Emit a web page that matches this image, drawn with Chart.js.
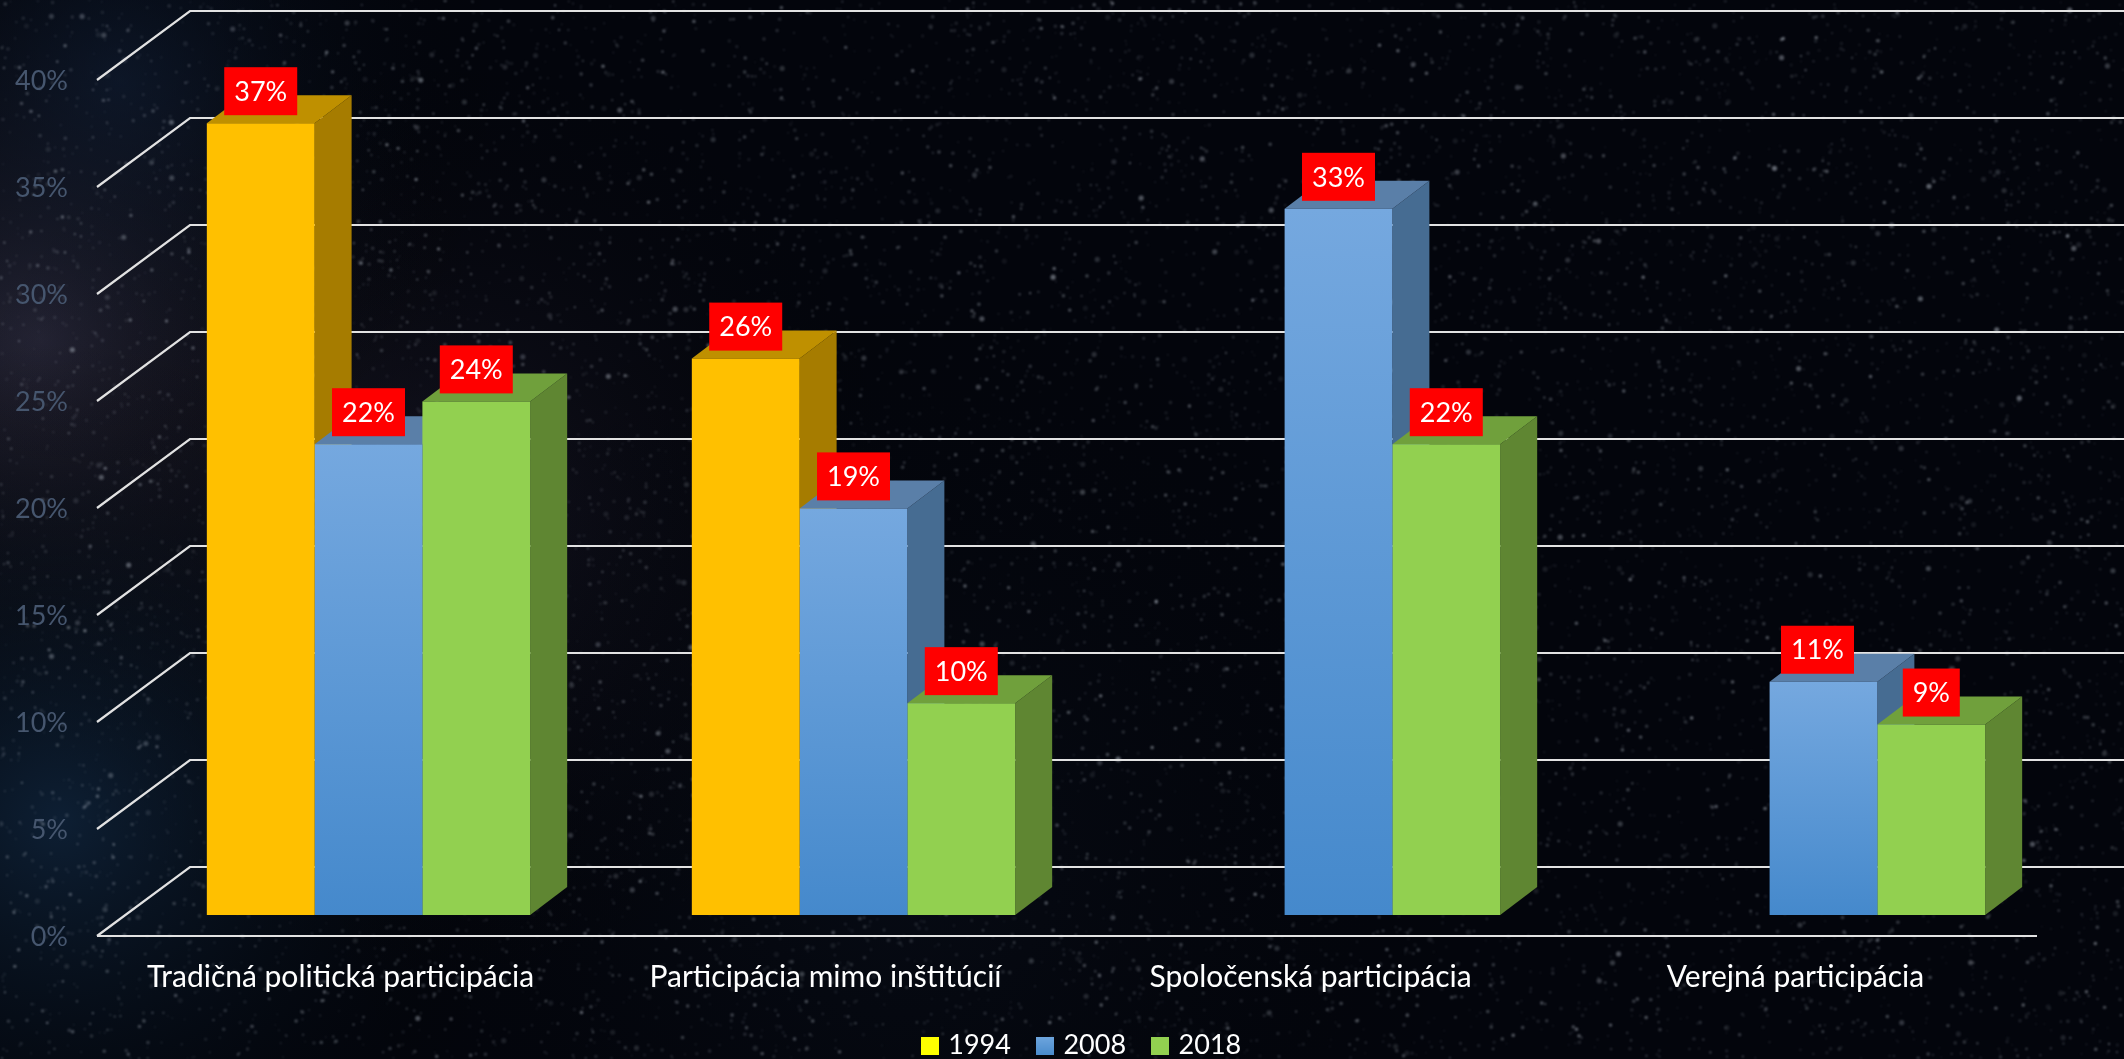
<!DOCTYPE html>
<html lang="sk">
<head>
<meta charset="utf-8">
<title>Participácia</title>
<script src="https://cdn.jsdelivr.net/npm/chart.js@4"></script>
<style>
  html, body { margin: 0; padding: 0; background: #03050c; overflow: hidden; }
  canvas { display: block; }
</style>
</head>
<body>
<canvas id="graf" width="2124" height="1059"></canvas>
<script>
const kategorie = ['Tradičná politická participácia', 'Participácia mimo inštitúcií', 'Spoločenská participácia', 'Verejná participácia'];
const roky = ['1994', '2008', '2018'];
const hodnoty1994 = [37, 26, null, null];
const hodnoty2008 = [22, 19, 33, 10.9];
const hodnoty2018 = [24, 9.9, 22, 8.9];
const znacky = [0, 5, 10, 15, 20, 25, 30, 35, 40];

const fontName = 'Lato, Carlito, "Open Sans", sans-serif';

// colours per series: front, top face, side face
const farby = [
  { front: '#FFC000', top: '#BF9000', side: '#A67C00', legend: '#FFFF00' },
  { front: ['#75A8DF', '#4589CC'], top: '#5A7FA8', side: '#466C92', legend: '#5F9BD8' },
  { front: '#92D050', top: '#70A03C', side: '#5F8632', legend: '#92D050' }
];

// 3D box geometry
const wallDx = 93, wallDy = 69;       // from the front of the floor to the back wall
const frontDrop = 21;                 // front floor edge sits this far below the bars' base
const frontLeft = 97, frontRight = 2037;
const barDx = 37, barDy = 28;
const legendShift = 50;

function swatch(i) {
  const c = document.createElement('canvas');
  c.width = 18; c.height = 18;
  const g = c.getContext('2d');
  if (i === 1) {
    const gr = g.createLinearGradient(0, 0, 0, 18);
    gr.addColorStop(0, '#6FA6DE');
    gr.addColorStop(1, '#4A8CCD');
    g.fillStyle = gr;
  } else {
    g.fillStyle = farby[i].legend;
  }
  g.fillRect(0, 0, 18, 18);
  return c;
}

// stars go on their own canvas once, then get blurred in, the original is a soft photo
function hviezdy(width, height) {
  const c = document.createElement('canvas');
  c.width = width; c.height = height;
  const g = c.getContext('2d');
  let s = 90210;
  const rnd = () => {
    s = (s * 1664525 + 1013904223) % 4294967296;
    return s / 4294967296;
  };
  for (let i = 0; i < 13000; i++) {
    const x = rnd() * width, y = rnd() * height;
    const big = rnd();
    const r = big > 0.97 ? 2.6 : big > 0.65 ? 1.7 : 1.1;
    const a = 0.08 + rnd() * rnd() * 0.45;
    g.fillStyle = 'rgba(190,198,210,' + a.toFixed(3) + ')';
    g.beginPath();
    g.arc(x, y, r, 0, Math.PI * 2);
    g.fill();
  }
  return c;
}

const pozadie = {
  id: 'pozadie',
  beforeDraw(chart) {
    const { ctx, width, height } = chart;
    ctx.save();
    ctx.fillStyle = '#03050c';
    ctx.fillRect(0, 0, width, height);

    // milky way haze on the left
    const hazes = [
      [40, 340, 460, 'rgba(70,66,92,0.6)'],
      [440, 520, 500, 'rgba(46,42,64,0.4)'],
      [60, 820, 480, 'rgba(18,42,68,0.7)'],
      [120, 80, 400, 'rgba(16,32,56,0.55)'],
      [900, 860, 620, 'rgba(14,22,36,0.35)']
    ];
    hazes.forEach(h => {
      const gr = ctx.createRadialGradient(h[0], h[1], 0, h[0], h[1], h[2]);
      gr.addColorStop(0, h[3]);
      gr.addColorStop(1, 'rgba(0,0,0,0)');
      ctx.fillStyle = gr;
      ctx.fillRect(0, 0, width, height);
    });

    ctx.filter = 'blur(0.9px)';
    ctx.drawImage(hviezdy(width, height), 0, 0);
    ctx.filter = 'none';
    ctx.restore();
  }
};

const steny = {
  id: 'steny',
  afterLayout(chart) {
    // the original legend sits off the chart's centre
    chart.legend.left += legendShift;
    chart.legend.right += legendShift;
  },
  beforeDatasetsDraw(chart) {
    const { ctx, scales: { y } } = chart;
    const base = y.getPixelForValue(0) + frontDrop;
    const step = y.getPixelForValue(0) - y.getPixelForValue(1);
    ctx.save();
    ctx.strokeStyle = '#E2E2E2';
    ctx.lineWidth = 2.2;
    znacky.forEach(v => {
      const fy = base - v * step;
      ctx.beginPath();
      ctx.moveTo(frontLeft, fy);
      ctx.lineTo(frontLeft + wallDx, fy - wallDy);
      ctx.lineTo(frontRight + wallDx, fy - wallDy);
      ctx.stroke();
    });
    ctx.beginPath();
    ctx.moveTo(frontLeft, base);
    ctx.lineTo(frontRight, base);
    ctx.stroke();

    // side and top of every bar, left to right; the library draws the fronts after this
    chart.data.datasets.forEach((ds, di) => {
      const f = farby[di];
      chart.getDatasetMeta(di).data.forEach((bar, i) => {
        if (ds.data[i] === null) return;
        const p = bar.getProps(['x', 'y', 'base', 'width'], true);
        const left = p.x - p.width / 2, right = p.x + p.width / 2;
        ctx.fillStyle = f.side;
        ctx.beginPath();
        ctx.moveTo(right, p.y);
        ctx.lineTo(right + barDx, p.y - barDy);
        ctx.lineTo(right + barDx, p.base - barDy);
        ctx.lineTo(right, p.base);
        ctx.closePath();
        ctx.fill();
        ctx.fillStyle = f.top;
        ctx.beginPath();
        ctx.moveTo(left, p.y);
        ctx.lineTo(left + barDx, p.y - barDy);
        ctx.lineTo(right + barDx, p.y - barDy);
        ctx.lineTo(right, p.y);
        ctx.closePath();
        ctx.fill();
      });
    });
    ctx.restore();
  }
};

const stitky = {
  id: 'stitky',
  afterDatasetsDraw(chart) {
    const { ctx } = chart;
    ctx.save();
    ctx.font = '27px ' + fontName;
    ctx.textAlign = 'center';
    ctx.textBaseline = 'middle';
    chart.data.datasets.forEach((ds, di) => {
      chart.getDatasetMeta(di).data.forEach((bar, i) => {
        if (ds.data[i] === null) return;
        const txt = Math.round(ds.data[i]) + '%';
        const w = Math.round(ctx.measureText(txt).width) + 20;
        let x = bar.x;
        if (di === 1 && i === 3) x -= 6;   // 11% box is nudged left in the original
        const y = bar.y - 32;
        ctx.fillStyle = '#FF0000';
        ctx.fillRect(x - w / 2, y - 24, w, 48);
        ctx.fillStyle = '#FFFFFF';
        ctx.fillText(txt, x, y + 1);
      });
    });
    ctx.restore();
  }
};

function frontFill(i) {
  if (i !== 1) return farby[i].front;
  return ctx => {
    const v = ctx.raw;
    if (v === null || v === undefined || !ctx.chart.scales.y) return farby[1].front[0];
    const y = ctx.chart.scales.y;
    const gr = ctx.chart.ctx.createLinearGradient(0, y.getPixelForValue(v), 0, y.getPixelForValue(0));
    gr.addColorStop(0, farby[1].front[0]);
    gr.addColorStop(1, farby[1].front[1]);
    return gr;
  };
}

const series = [hodnoty1994, hodnoty2008, hodnoty2018];

new Chart(document.getElementById('graf'), {
  type: 'bar',
  data: {
    labels: kategorie,
    datasets: series.map((d, i) => ({
      label: roky[i],
      data: d,
      backgroundColor: frontFill(i),
      borderWidth: 0
    }))
  },
  options: {
    responsive: false,
    animation: false,
    categoryPercentage: 0.6667,
    barPercentage: 1,
    layout: { autoPadding: false, padding: { left: 0, right: 58, top: 59, bottom: -10 } },
    plugins: {
      tooltip: { enabled: false },
      legend: {
        position: 'bottom',
        onClick: null,
        labels: {
          color: '#FFFFFF',
          font: { family: fontName, size: 27, lineHeight: 1 },
          usePointStyle: true,
          pointStyleWidth: 10,
          boxHeight: 18,
          padding: 29,
          generateLabels: () => roky.map((r, i) => ({
            text: r,
            pointStyle: swatch(i),
            fontColor: '#FFFFFF',
            lineWidth: 0,
            datasetIndex: i
          }))
        }
      }
    },
    scales: {
      x: {
        grid: { display: false, drawTicks: false },
        border: { display: false },
        ticks: {
          color: '#FFFFFF',
          font: { family: fontName, size: 30 },
          padding: 44,
          labelOffset: -28,
          maxRotation: 0,
          autoSkip: false
        },
        afterFit: s => { s.height = 88; }
      },
      y: {
        min: 0,
        max: 40,
        // tickLength instead of ticks.padding: padding also eats into the top of the scale
        grid: { display: false, drawTicks: true, tickLength: 58 },
        border: { display: false },
        ticks: {
          stepSize: 5,
          color: '#46566E',
          font: { family: fontName, size: 27 },
          padding: 0,
          labelOffset: 22,
          callback: v => v + '%'
        },
        afterFit: s => { s.width = 126; }
      }
    }
  },
  plugins: [pozadie, steny, stitky]
});
</script>
</body>
</html>
